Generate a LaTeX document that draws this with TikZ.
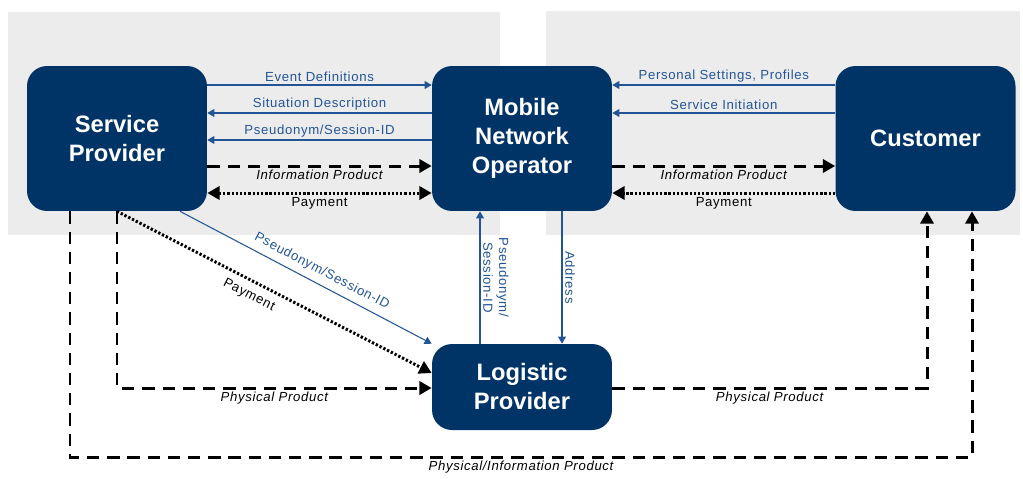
\documentclass[tikz,border=0pt]{standalone}
\usepackage{fontspec}
\setmainfont{Liberation Sans}
\usetikzlibrary{arrows.meta,positioning}
\usepackage{xcolor}
\definecolor{boxblue}{RGB}{0,51,102}
\definecolor{flowblue}{RGB}{35,85,150}
\definecolor{lanegray}{RGB}{236,236,236}
\newcommand\lblfont{\fontsize{7.5}{9}\selectfont\addfontfeature{LetterSpace=5}}

\begin{document}
\begin{tikzpicture}[x=0.02cm, y=-0.02cm,
    actor/.style={rectangle, rounded corners=0.4cm, fill=boxblue, text=white, align=center,
      font=\fontsize{13.5}{16.5}\selectfont\bfseries, minimum width=3.6cm, inner sep=0pt},
    smalltip/.tip={Triangle[length=4pt, width=4.5pt]},
    bigtip/.tip={Triangle[length=7pt, width=7.5pt]},
    msg/.style={draw=flowblue, line width=0.6pt, -smalltip},
    msglabel/.style={text=flowblue, font=\lblfont, inner sep=1.5pt},
    goods/.style={draw=black, line width=1.7pt, dash pattern=on 7pt off 4.5pt, -bigtip},
    money/.style={draw=black, line width=1.7pt, dash pattern=on 1.3pt off 1.1pt},
    plainlabel/.style={font=\lblfont, inner sep=1.5pt},
    prodlabel/.style={font=\itshape\lblfont, inner sep=1.5pt}]
    \useasboundingbox (0,0) rectangle (1023,478);

    % Lanes
    \fill[lanegray] (8,12) rectangle (500,235);
    \fill[lanegray] (546,11) rectangle (1020,235);

    % Actors
    \node[actor, minimum height=2.9cm] (sp) at (117,138.5) {Service\\Provider};
    \node[actor, minimum height=2.9cm] (mno) at (522,138.5) {Mobile\\Network\\Operator};
    \node[actor, minimum height=2.9cm] (cu) at (925.5,138.5) {Customer};
    \node[actor, minimum height=1.72cm] (lp) at (522,387) {Logistic\\Provider};

    % Service Provider <-> Mobile Network Operator
    \draw[msg] (sp.east |- 0,85) -- node[msglabel, above] {Event Definitions} (mno.west |- 0,85);
    \draw[msg] (mno.west |- 0,113) -- node[msglabel, above] {Situation Description} (sp.east |- 0,113);
    \draw[msg] (mno.west |- 0,140) -- node[msglabel, above] {Pseudonym/Session-ID} (sp.east |- 0,140);
    \draw[goods] (sp.east |- 0,166) -- node[prodlabel, below] {Information Product} (mno.west |- 0,166);
    \draw[money, bigtip-bigtip] (sp.east |- 0,193) -- node[plainlabel, below] {Payment} (mno.west |- 0,193);

    % Customer <-> Mobile Network Operator
    \draw[msg] (cu.west |- 0,85) -- node[msglabel, above] {Personal Settings, Profiles} (mno.east |- 0,85);
    \draw[msg] (cu.west |- 0,113) -- node[msglabel, above] {Service Initiation} (mno.east |- 0,113);
    \draw[goods] (mno.east |- 0,166) -- node[prodlabel, below] {Information Product} (cu.west |- 0,166);
    \draw[money, -bigtip] (cu.west |- 0,193) -- node[plainlabel, below] {Payment} (mno.east |- 0,193);

    % Logistic Provider
    \draw[msg] (sp.south -| 180,0) -- node[msglabel, sloped, above, pos=0.54, inner sep=3.5pt] {Pseudonym/Session-ID} (lp.north west);
    \draw[money, -bigtip] (sp.south -| 117,0) -- node[plainlabel, sloped, below, pos=0.44, inner sep=4pt] {Payment} (lp.west |- 0,373);
    \draw[msg] (lp.north -| 480,0) -- node[msglabel, rotate=-90, anchor=south, align=center] {Pseudonym/\\Session-ID} (mno.south -| 480,0);
    \draw[msg] (mno.south -| 562,0) -- node[msglabel, rotate=-90, anchor=south] {Address} (lp.north -| 562,0);

    % Physical flows
    \draw[goods] (sp.south -| 117,0) |- node[prodlabel, below, pos=0.75] {Physical Product} (lp.west |- 0,388);
    \draw[goods] (lp.east |- 0,388) -| node[prodlabel, below, pos=0.25] {Physical Product} (cu.south -| 927,0);
    \coordinate (pibase) at (521,457);
    \draw[goods] (sp.south -| 70,0) |- (pibase) node[prodlabel, below] {Physical/Information Product} -| (cu.south -| 972,0);
\end{tikzpicture}
\end{document}
